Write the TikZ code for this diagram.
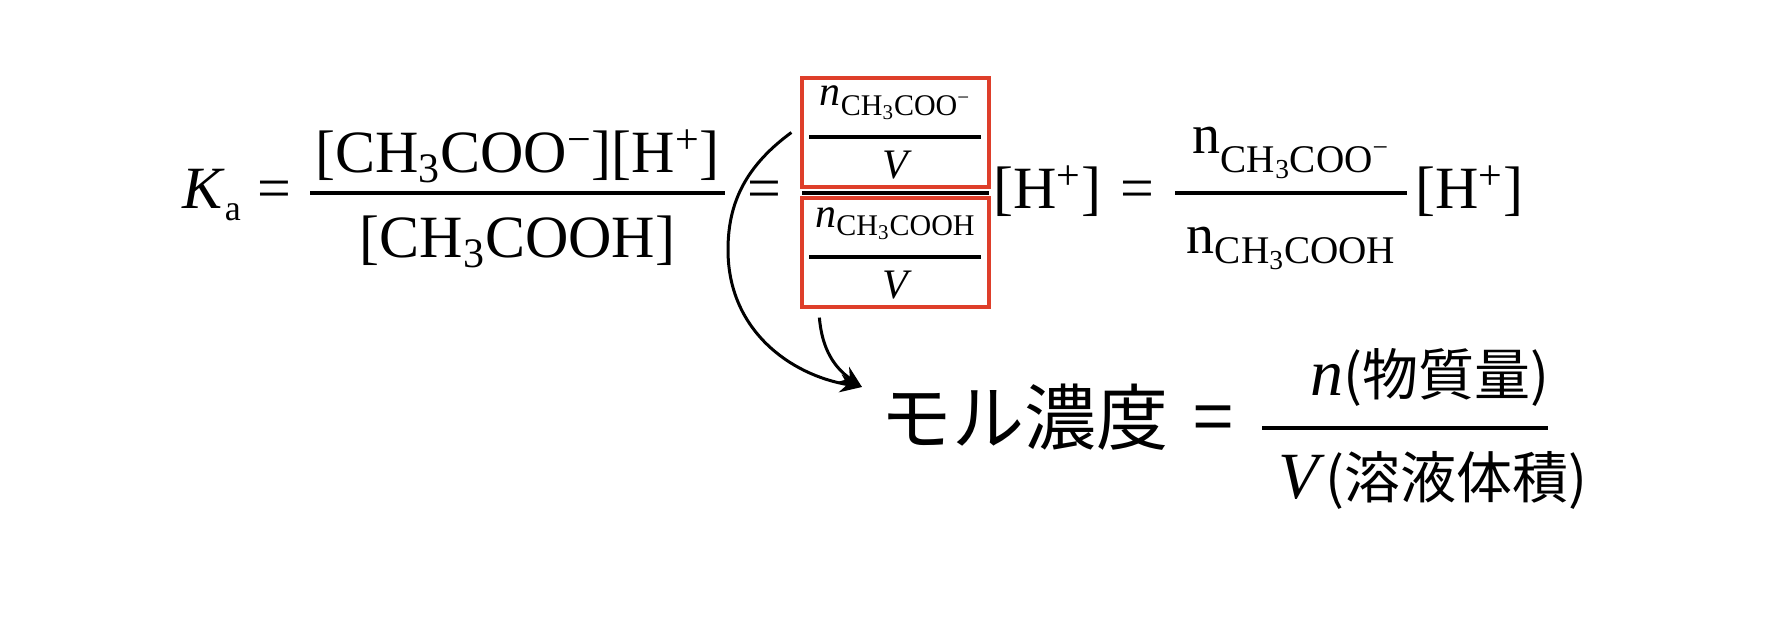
\documentclass[tikz,border=0pt]{standalone}
\usepackage{fontspec}
\setmainfont{Liberation Serif}
\newfontfamily\jpfont{Noto Sans CJK JP}
\usepackage{tikz}
\usetikzlibrary{arrows.meta,positioning}
\usepackage{xcolor}
\definecolor{boxred}{RGB}{222,62,42}
\tikzstyle{arrow} = [line width=1.5pt,-{Stealth[length=11pt,width=9pt]}]
\tikzstyle{fracbar} = [line width=2pt]
\tikzstyle{smallbar} = [line width=1.6pt]
\tikzstyle{redbox} = [draw=boxred, line width=1.6pt, minimum width=93.5pt, minimum height=54.5pt, inner sep=0pt]
\tikzstyle{bigtxt} = [inner sep=0pt, font=\fontsize{30}{36}\selectfont]
\tikzstyle{boxtxt} = [inner sep=0pt, font=\fontsize{21}{24}\selectfont]
\tikzstyle{midtxt} = [inner sep=0pt, font=\fontsize{28}{32}\selectfont]
\tikzstyle{jptxt} = [inner sep=0pt, font=\jpfont\fontsize{36}{40}\selectfont]
\tikzstyle{lowtxt} = [inner sep=0pt, font=\fontsize{33}{36}\selectfont]

\begin{document}
\begin{tikzpicture}[x=0.5pt,y=-0.5pt]
\fill[white] (0,0) rectangle (1767,627);

% Ka = first fraction
\node[bigtxt, anchor=base west] (ka) at (182,208) {\textit{K}\raisebox{-6pt}{\fontsize{18}{18}\selectfont a}};
\node[bigtxt, anchor=base west] (eqa) at (257,208) {=};
\node[bigtxt, anchor=base] (numa) at (517.5,172) {[CH\textsubscript{3}COO\textsuperscript{−}][H\textsuperscript{+}]};
\draw[fracbar] (310,192.5) -- (725,192.5);
\node[bigtxt, anchor=base] (dena) at (517.5,257) {[CH\textsubscript{3}COOH]};
\node[bigtxt, anchor=base west] (eqb) at (747,208) {=};

% Red boxes
\node[redbox] (boxtop) at (895.5,132.5) {};
\node[redbox] (boxbot) at (895.5,252.5) {};
\draw[fracbar] (802,193) -- (989,193);

\node[boxtxt, anchor=base] (ntop) at (895,105) {\textit{n}\raisebox{-5pt}{\fontsize{15}{15}\selectfont CH\textsubscript{3}COO\textsuperscript{−}}};
\draw[smallbar] (809,137) -- (981,137);
\node[boxtxt, anchor=base] (vtop) at (897,178) {\textit{V}};

\node[boxtxt, anchor=base] (nbot) at (895,227) {\textit{n}\raisebox{-4pt}{\fontsize{15}{15}\selectfont CH\textsubscript{3}COOH}};
\draw[smallbar] (809,257) -- (981,257);
\node[boxtxt, anchor=base] (vbot) at (897,298) {\textit{V}};

% [H+] = second fraction [H+]
\node[bigtxt, anchor=base west] (hplusa) at (993,208) {[H\textsuperscript{+}]};
\node[bigtxt, anchor=base west] (eqc) at (1120,208) {=};
\node[midtxt, anchor=base] (numc) at (1291,153) {n\raisebox{-9.5pt}{\fontsize{19.6}{20}\selectfont CH\textsubscript{3}COO\textsuperscript{−}}};
\draw[fracbar] (1175,193) -- (1407,193);
\node[midtxt, anchor=base] (denc) at (1291,253) {n\raisebox{-5pt}{\fontsize{19.6}{20}\selectfont CH\textsubscript{3}COOH}};
\node[bigtxt, anchor=base west] (hplusb) at (1415,208) {[H\textsuperscript{+}]};

% Molar concentration
\node[jptxt, anchor=west] (molar) at (880,417) {モル濃度};
\node[jptxt, anchor=west] (eqd) at (1193,425) {=};
\draw[fracbar] (1262,428) -- (1548,428);
\node[lowtxt, anchor=base west] (amount) at (1310,395) {\textit{n}{\jpfont\fontsize{28}{30}\selectfont (物質量)}};
\node[lowtxt, anchor=base west] (volume) at (1278,498) {\textit{V}{\jpfont\fontsize{28}{30}\selectfont (溶液体積)}};

% Arrows
\coordinate (starta) at ([xshift=-4.5pt]boxtop.west);
\coordinate (startb) at ([xshift=9.5pt,yshift=-4.5pt]boxbot.south west);
\coordinate (tip) at (862,387);
\draw[arrow] (starta) .. controls (740,170) and (728,210) .. (728,250) .. controls (728,330) and (790,375) .. (tip);
\draw[arrow] (startb) .. controls (822,350) and (835,368) .. (tip);
\end{tikzpicture}
\end{document}
